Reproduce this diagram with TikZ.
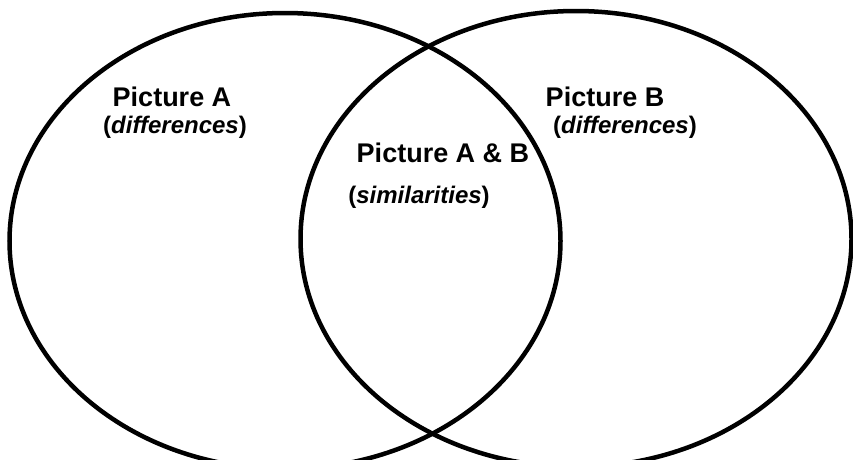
\documentclass[tikz,border=0pt]{standalone}
\usepackage{fontspec}
\setmainfont{Liberation Sans}
\usetikzlibrary{positioning, shapes.geometric}

\tikzset{
  setbox/.style={draw, ellipse, line width=4.5pt, inner sep=0pt, minimum width=551pt, minimum height=456pt},
  title/.style={font=\fontsize{27}{30}\selectfont\bfseries, inner sep=0pt},
  subtitle/.style={font=\fontsize{24}{27}\selectfont\bfseries, inner sep=0pt}
}

\begin{document}
\begin{tikzpicture}[x=1pt, y=-1pt]
            \useasboundingbox (0,0) rectangle (853,459);
            \clip (0,0) rectangle (853,459);

            % Sets
            \node[setbox] (setA) at (285,241) {};
            \node[setbox] (setB) at (576,239) {};

            % Picture A
            \node[title] (nameA) at (172,97) {Picture A};
            \node[subtitle] (diffA) at (175,127) {(\textit{differences})};

            % Picture B
            \node[title] (nameB) at (605,97) {Picture B};
            \node[subtitle] (diffB) at (625,127) {(\textit{differences})};

            % Overlap
            \node[title] (nameAB) at (443,153) {Picture A \& B};
            \node[subtitle] (simAB) at (419,197) {(\textit{similarities})};
        \end{tikzpicture}
\end{document}
